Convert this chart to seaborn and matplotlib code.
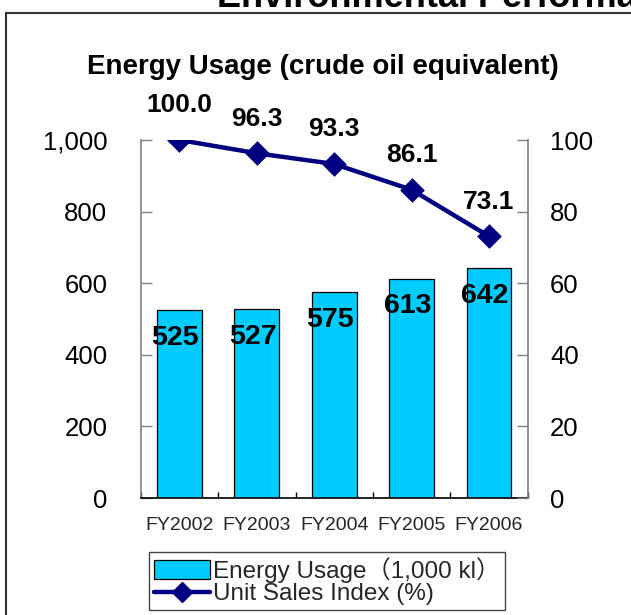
import numpy as np
import pandas as pd
import matplotlib
matplotlib.use("Agg")
import matplotlib.pyplot as plt
import seaborn as sns
from matplotlib.patches import Rectangle, Patch
from matplotlib.lines import Line2D
from matplotlib.ticker import FuncFormatter, FixedLocator

# ---- data ----
years = ["FY2002", "FY2003", "FY2004", "FY2005", "FY2006"]
energy = [525, 527, 575, 613, 642]
sales_index = [100.0, 96.3, 93.3, 86.1, 73.1]
left_ticks = [0, 200, 400, 600, 800, 1000]
right_ticks = [0, 20, 40, 60, 80, 100]
title = "Energy Usage (crude oil equivalent)"
page_title = "Environmental Performance"
legend_labels = ["Energy Usage\uff081,000 kl\uff09", "Unit Sales Index (%)"]

sns.set_theme(style="white")
plt.rcParams['font.family'] = ['Liberation Sans', 'Noto Sans CJK JP', 'DejaVu Sans']

BAR_COLOR = "#00CCFF"
LINE_COLOR = "#000080"
SPINE_GRAY = "#808080"

W, H = 631, 615
fig = plt.figure(figsize=(W / 100, H / 100), dpi=100)

# axes placement (pixel based)
x0, x1 = 140.7, 527.7
y_top, y_bot = 140, 498
ax = fig.add_axes([x0 / W, 1 - y_bot / H, (x1 - x0) / W, (y_bot - y_top) / H])

df = pd.DataFrame({"year": years, "energy": energy, "index": sales_index})

sns.barplot(data=df, x="year", y="energy", ax=ax, color=BAR_COLOR,
            saturation=1, width=0.58, edgecolor="black", linewidth=0.9)
ax.set_ylim(0, 1000)
ax.set_xlim(-0.5, len(years) - 0.5)

ax2 = ax.twinx()
sns.pointplot(data=df, x="year", y="index", ax=ax2, color=LINE_COLOR,
              markers="D", linestyles="-", markersize=10.5, linewidth=3.2,
              errorbar=None)
ax2.set_ylim(0, 100)
ax2.set_xlim(-0.5, len(years) - 0.5)

# axes styling
for a in (ax, ax2):
    a.set_xlabel("")
    a.set_ylabel("")
    a.spines["top"].set_visible(False)
    a.grid(False)
    a.set_facecolor("none")

ax.spines["left"].set_color(SPINE_GRAY)
ax.spines["left"].set_linewidth(1.2)
ax.spines["right"].set_visible(False)
ax.spines["bottom"].set_color("black")
ax.spines["bottom"].set_linewidth(1.2)
ax2.spines["left"].set_visible(False)
ax2.spines["bottom"].set_visible(False)
ax2.spines["right"].set_color(SPINE_GRAY)
ax2.spines["right"].set_linewidth(1.2)

ax.yaxis.set_major_locator(FixedLocator(left_ticks))
ax.yaxis.set_major_formatter(FuncFormatter(lambda v, p: f"{int(v):,}"))
ax.tick_params(axis="y", direction="in", length=8, width=1, color=SPINE_GRAY,
               labelsize=18.5, pad=24, left=True, labelcolor="black")
ax2.yaxis.set_major_locator(FixedLocator(right_ticks))
ax2.tick_params(axis="y", direction="in", length=8, width=1, color=SPINE_GRAY,
                labelsize=18.5, pad=16, right=True, labelcolor="black")

ax.set_xticks(range(len(years)))
ax.set_xticklabels(years)
ax.tick_params(axis="x", which="major", length=0, labelsize=14, pad=14)
ax.set_xticks(np.arange(-0.5, len(years)), minor=True)
ax.tick_params(axis="x", which="minor", direction="in", length=4, width=1,
               color="black", bottom=True)
ax2.tick_params(axis="x", length=0, labelbottom=False)

# bar value labels
for i, v in enumerate(energy):
    ax.annotate(f"{v}", (i, v), xytext=(-3, -20), textcoords="offset points",
                ha="center", va="center", fontsize=20.5, fontweight="bold",
                color="black")

# line value labels
for i, v in enumerate(sales_index):
    ax2.annotate(f"{v:.1f}", (i, v), xytext=(0, 25), textcoords="offset points",
                 ha="center", va="center", fontsize=19, fontweight="bold",
                 color="black")

# chart title
fig.text(323 / W, 1 - 74 / H, title, ha="center", va="baseline",
         fontsize=20, fontweight="bold", color="black")

# page title cut at top (as in the reference)
fig.text(217 / W, 1 - 7 / H, page_title, ha="left", va="baseline",
         fontsize=26, fontweight="bold", color="black")

# outer frame
frame = Rectangle((6 / W, -0.1), 1.2, 1.1 - 13 / H, transform=fig.transFigure,
                  fill=False, edgecolor="#333333", linewidth=1.5)
fig.add_artist(frame)

# legend
handles = [Patch(facecolor=BAR_COLOR, edgecolor="black", linewidth=0.9),
           Line2D([0], [0], color=LINE_COLOR, linewidth=3.2, marker="D",
                  markersize=10.5)]
leg = fig.legend(handles, legend_labels, loc="upper center",
                 bbox_to_anchor=(327 / W, 1 - 552 / H), fontsize=17.5,
                 frameon=True, fancybox=False, shadow=False, framealpha=1,
                 edgecolor="#444444", handlelength=2.3, handleheight=0.8,
                 handletextpad=0.1, labelspacing=0.0, borderpad=0.2,
                 borderaxespad=0)
leg.get_frame().set_linewidth(1.0)

fig.savefig("out.png", dpi=100)
